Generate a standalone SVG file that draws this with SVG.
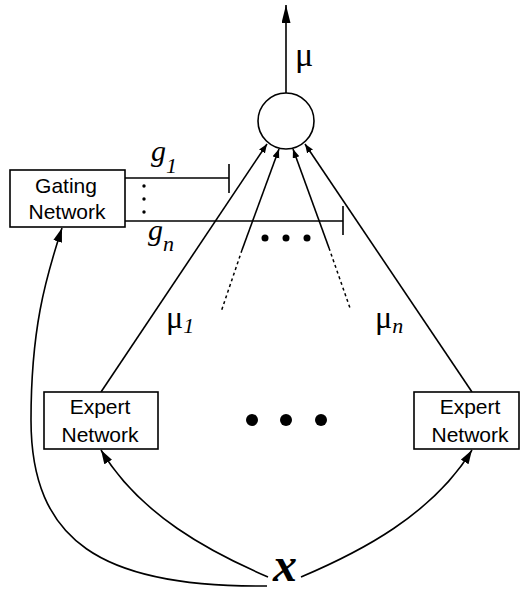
<svg xmlns="http://www.w3.org/2000/svg" width="520" height="592" viewBox="0 0 520 592">
  <style>
    .box { fill: #fff; stroke: #000; stroke-width: 1.6; }
    .ln { fill: none; stroke: #000; stroke-width: 1.6; }
    .dot { fill: none; stroke: #000; stroke-width: 1.5; stroke-dasharray: 3 3; }
    .lbl { font-family: "Liberation Sans", Arial, sans-serif; font-size: 21px; fill: #000; }
    .sym { font-family: "Liberation Serif", "Times New Roman", serif; fill: #000; }
    .it { font-style: italic; }
  </style>
  <defs>
    <marker id="arrow" markerUnits="userSpaceOnUse" markerWidth="16" markerHeight="10" refX="14" refY="4.5" orient="auto">
      <path d="M0,0 L14,4.5 L0,9 z" fill="#000"/>
    </marker>
    <marker id="arrowUp" markerUnits="userSpaceOnUse" markerWidth="20" markerHeight="10" refX="18" refY="4.5" orient="auto">
      <path d="M0,0 L18,4.5 L0,9 z" fill="#000"/>
    </marker>
    <marker id="arrowSmall" markerUnits="userSpaceOnUse" markerWidth="10" markerHeight="8" refX="9" refY="3.5" orient="auto">
      <path d="M0,0 L9,3.5 L0,7 z" fill="#000"/>
    </marker>
  </defs>

  <!-- connectors -->
  <g id="connectors">
    <!-- output -->
    <line class="ln" x1="286" y1="93" x2="286" y2="5" marker-end="url(#arrowUp)"/>
    <!-- expert outputs into the combiner -->
    <line class="ln" x1="101" y1="392" x2="267" y2="144" marker-end="url(#arrowSmall)"/>
    <line class="ln" x1="242" y1="250" x2="279" y2="149" marker-end="url(#arrowSmall)"/>
    <line class="ln" x1="329" y1="248" x2="293" y2="149" marker-end="url(#arrowSmall)"/>
    <line class="ln" x1="472" y1="392" x2="305" y2="144" marker-end="url(#arrowSmall)"/>
    <line class="dot" x1="242" y1="250" x2="221" y2="312"/>
    <line class="dot" x1="329" y1="248" x2="350" y2="308"/>
    <!-- gating outputs -->
    <line class="ln" x1="125" y1="178" x2="229" y2="178"/>
    <line class="ln" x1="229" y1="164" x2="229" y2="193"/>
    <line class="ln" x1="125" y1="221" x2="343" y2="221"/>
    <line class="ln" x1="343" y1="206" x2="343" y2="235"/>
    <!-- input x to the networks -->
    <path class="ln" d="M268,577 C210,552 140,515 101,450" marker-end="url(#arrow)"/>
    <path class="ln" d="M301,577 C360,552 432,515 472,450" marker-end="url(#arrow)"/>
    <path class="ln" d="M267,586 C100,588 31,540 31,420 C31,330 45,280 62,228" marker-end="url(#arrow)"/>
  </g>

  <!-- ellipsis marks -->
  <g id="ellipses" fill="#000">
    <circle cx="144" cy="186" r="1.7"/>
    <circle cx="144" cy="199" r="1.7"/>
    <circle cx="144" cy="212" r="1.7"/>
    <circle cx="265" cy="238" r="3.5"/>
    <circle cx="286" cy="238" r="3.5"/>
    <circle cx="307" cy="238" r="3.5"/>
    <circle cx="252" cy="420" r="6"/>
    <circle cx="286" cy="420" r="6"/>
    <circle cx="321" cy="420" r="6"/>
  </g>

  <g id="combiner">
    <circle class="box" cx="286" cy="121" r="28"/>
  </g>

  <g id="gating">
    <rect class="box" x="10" y="170" width="115" height="57"/>
    <text class="lbl" x="66" y="193" text-anchor="middle">Gating</text>
    <text class="lbl" x="67" y="219" text-anchor="middle">Network</text>
  </g>

  <g id="expert1">
    <rect class="box" x="44" y="392" width="114" height="57"/>
    <text class="lbl" x="100" y="414" text-anchor="middle">Expert</text>
    <text class="lbl" x="100" y="442" text-anchor="middle">Network</text>
  </g>

  <g id="expertN">
    <rect class="box" x="414" y="392" width="105" height="57"/>
    <text class="lbl" x="470" y="414" text-anchor="middle">Expert</text>
    <text class="lbl" x="470" y="442" text-anchor="middle">Network</text>
  </g>

  <!-- symbols -->
  <g id="labels">
    <text class="sym" x="295" y="66" font-size="34">μ</text>
    <text class="sym it" x="151" y="161" font-size="30">g<tspan font-size="22" y="173">1</tspan></text>
    <text class="sym it" x="148" y="240" font-size="30">g<tspan font-size="22" y="251">n</tspan></text>
    <text class="sym" x="166" y="328" font-size="32">μ<tspan class="it" font-size="22" y="333">1</tspan></text>
    <text class="sym" x="375" y="328" font-size="32">μ<tspan class="it" font-size="22" y="333">n</tspan></text>
    <text class="sym it" x="273" y="581" font-size="48" font-weight="bold">x</text>
  </g>
</svg>
